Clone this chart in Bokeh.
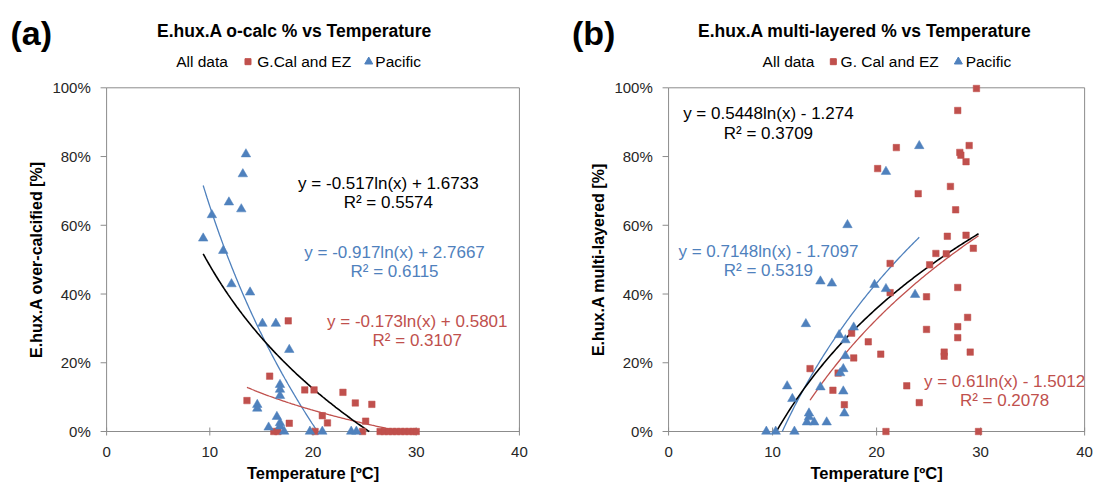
import math
import numpy as np
from bokeh.plotting import figure
from bokeh.layouts import row
from bokeh.models import Range1d, Label
from bokeh.core.properties import value
from bokeh.embed import file_html
from bokeh.resources import INLINE

# ---------------- data ----------------
temp_ticks = [0, 10, 20, 30, 40]
temp_tick_labels = ["0", "10", "20", "30", "40"]
pct_ticks = [0, 20, 40, 60, 80, 100]
pct_tick_labels = ["0%", "20%", "40%", "60%", "80%", "100%"]

# (a) E.hux.A over-calcified % vs temperature
a_gcal_temp = [13.6, 15.8, 16.2, 16.6, 17.6, 17.7, 19.2, 20.1, 20.2, 20.9, 21.4, 22.9, 24.1,
               24.8, 25.1, 25.7, 26.5, 26.9, 27.3, 27.7, 28.1, 28.5, 28.9, 29.3, 29.7, 30.0]
a_gcal_pct = [9.0, 16.1, 0, 0, 32.2, 2.4, 12.1, 12.1, 0, 4.6, 2.5, 11.4, 8.3,
              0, 3.0, 7.9, 0, 0, 0, 0, 0, 0, 0, 0, 0, 0]
a_pac_temp = [9.36, 10.2, 11.3, 11.85, 12.1, 13.05, 13.2, 13.5, 13.9, 14.6, 14.6, 15.1, 15.7,
              16.4, 16.5, 16.8, 16.8, 16.8, 16.8, 16.8, 17.2, 17.7, 19.7, 20.9, 23.7, 24.2]
a_pac_pct = [56.2, 63.0, 52.6, 66.7, 42.9, 64.7, 74.9, 80.7, 40.5, 7.8, 6.7, 31.4, 1.2,
             31.4, 4.3, 13.6, 12.2, 10.4, 2.5, 1.5, 0, 23.8, 0, 0, 0, 0]
a_fit_all = [-0.517, 1.6733]
a_fit_gcal = [-0.173, 0.5801]
a_fit_pac = [-0.917, 2.7667]
a_eq_all = ["y = -0.517ln(x) + 1.6733", "R² = 0.5574"]
a_eq_gcal = ["y = -0.173ln(x) + 0.5801", "R² = 0.3107"]
a_eq_pac = ["y = -0.917ln(x) + 2.7667", "R² = 0.6115"]

# (b) E.hux.A multi-layered % vs temperature
b_gcal_temp = [13.6, 15.8, 16.3, 16.9, 17.6, 17.8, 19.2, 20.1, 20.4, 20.9, 21.3, 21.3, 21.9,
               22.9, 24.0, 24.1, 24.8, 24.8, 25.1, 25.7, 26.5, 26.5, 26.7, 26.8, 27.1, 27.6,
               27.8, 27.8, 27.8, 27.8, 28.0, 28.1, 28.6, 28.6, 28.75, 28.9, 29.0, 29.3, 29.6, 29.8]
b_gcal_pct = [18.3, 12.0, 17.0, 7.8, 28.6, 21.4, 26.1, 76.5, 22.5, 0, 48.9, 40.4, 82.6,
              13.3, 69.2, 8.4, 39.2, 29.7, 48.5, 51.8, 23.1, 21.9, 51.7, 56.8, 71.3, 64.5,
              93.4, 41.9, 30.5, 27.3, 81.2, 80.4, 57.1, 78.5, 33.2, 83.2, 23.1, 53.3, 99.8, 0]
b_pac_temp = [9.4, 10.3, 11.4, 11.9, 12.1, 13.2, 13.3, 13.5, 13.5, 14.0, 14.6, 14.6, 15.2, 15.7,
              16.4, 16.5, 16.8, 16.8, 16.9, 17.0, 17.0, 17.2, 17.8, 19.8, 20.9, 20.9, 23.7, 24.1]
b_pac_pct = [0, 0, 13.2, 9.5, 0, 31.3, 2.7, 5.3, 4.2, 2.7, 43.7, 12.9, 2.7, 43.1,
             28.1, 17.0, 18.2, 11.7, 5.3, 26.6, 22.0, 60.1, 30.3, 42.7, 41.5, 75.6, 39.8, 83.1]
b_fit_all = [0.5448, -1.274]
b_fit_gcal = [0.61, -1.5012]
b_fit_pac = [0.7148, -1.7097]
b_eq_all = ["y = 0.5448ln(x) - 1.274", "R² = 0.3709"]
b_eq_gcal = ["y = 0.61ln(x) - 1.5012", "R² = 0.2078"]
b_eq_pac = ["y = 0.7148ln(x) - 1.7097", "R² = 0.5319"]

# ---------------- style ----------------
FONT = "Liberation Sans"
RED = "#C0504D"
BLUE = "#4F81BD"
AXIS = "#8C8C8C"
TXT = "#262626"


def log_curve(coef, xs):
    a, b = coef
    lo, hi = min(xs), max(xs)
    x0 = math.exp(-b / a)
    if a < 0:
        hi = min(hi, x0)
    else:
        lo = max(lo, x0)
    xx = np.linspace(lo, hi, 120)
    return xx, (a * np.log(xx) + b) * 100


def add_label(p, text, x, y, size, color=TXT, bold=False, align="left", angle=0.0, font=FONT):
    p.add_layout(Label(x=x, y=y, text=text, text_font=font, text_font_size=f"{size}px",
                       text_color=color, text_font_style="bold" if bold else "normal",
                       text_align=align, text_baseline="middle", angle=angle))


def panel(cfg):
    # the frame covers the whole figure; data space extends beyond the 0-40 / 0-100% box
    p = figure(width=547, height=484, x_range=Range1d(*cfg["xr"]), y_range=Range1d(-15.42, 125.4),
               output_backend="svg", toolbar_location=None,
               x_axis_location=None, y_axis_location=None,
               min_border=0, min_border_left=0, min_border_right=0,
               min_border_top=0, min_border_bottom=0)
    p.outline_line_color = None
    p.xgrid.visible = False
    p.ygrid.visible = False
    p.background_fill_color = "white"
    pxu = cfg["pxu"]  # pixels per temperature unit
    pyu = 3.437       # pixels per percent

    # plot-area box / axis lines
    p.segment(x0=[0, 0, 0, 40], y0=[0, 0, 100, 0], x1=[40, 0, 40, 40], y1=[0, 100, 100, 100],
              line_color=AXIS, line_width=1)
    # y ticks (outside) and x ticks (cross)
    p.segment(x0=[-6 / pxu] * len(pct_ticks), y0=pct_ticks, x1=[0] * len(pct_ticks), y1=pct_ticks,
              line_color=AXIS, line_width=1)
    p.segment(x0=temp_ticks, y0=[-4 / pyu] * len(temp_ticks), x1=temp_ticks,
              y1=[4 / pyu] * len(temp_ticks), line_color=AXIS, line_width=1)
    # tick labels
    p.text(x=[-15.8 / pxu] * len(pct_ticks), y=pct_ticks, text=pct_tick_labels,
           text_font=value(FONT), text_font_size="15px", text_color=TXT,
           text_align="right", text_baseline="middle")
    p.text(x=temp_ticks, y=[-20.7 / pyu] * len(temp_ticks), text=temp_tick_labels,
           text_font=value(FONT), text_font_size="15px", text_color=TXT,
           text_align="center", text_baseline="middle")

    gx, gy, px_, py_ = cfg["gx"], cfg["gy"], cfg["px"], cfg["py"]
    # trendlines
    cx, cy = log_curve(cfg["fit_pac"], px_)
    p.line(cx, cy, line_color=BLUE, line_width=1.3)
    cx, cy = log_curve(cfg["fit_gcal"], gx)
    p.line(cx, cy, line_color=RED, line_width=1.3)
    cx, cy = log_curve(cfg["fit_all"], list(gx) + list(px_))
    p.line(cx, cy, line_color="black", line_width=1.6)

    # points
    p.scatter(gx, gy, marker="square", size=6.5, fill_color=RED, line_color=RED, line_width=0.5)
    p.scatter(px_, py_, marker="triangle", size=9.5, fill_color=BLUE, line_color=BLUE, line_width=0.5)

    # headings
    tag, tx, ty = cfg["tag"]
    add_label(p, tag, tx, ty, 34, color="black", bold=True, align="center")
    t, tx, ty = cfg["title"]
    add_label(p, t, tx, ty, 17.5, color="black", bold=True, align="center")
    # legend
    lx = cfg["legx"]
    ly = cfg["legy"]
    add_label(p, "All data", lx[0], ly, 15.5, color="black")
    p.scatter([lx[1]], [ly], marker="square", size=6, fill_color=RED, line_color=RED)
    add_label(p, cfg["gname"], lx[2], ly, 15.5, color="black")
    p.scatter([lx[3]], [ly], marker="triangle", size=8, fill_color=BLUE, line_color=BLUE)
    add_label(p, "Pacific", lx[4], ly, 15.5, color="black")

    # axis titles
    add_label(p, cfg["ylabel"], cfg["ylx"], 50, 16, color="black", bold=True, align="center",
              angle=math.pi / 2)
    add_label(p, "Temperature [ºC]", 20, -12.2, 16.5, color="black", bold=True, align="center")

    # trendline equations
    for eq, (ex, ey1, ey2), col in cfg["eqs"]:
        add_label(p, eq[0], ex, ey1, 17, color=col, align="center")
        add_label(p, eq[1], ex, ey2, 17, color=col, align="center")
    return p


cfg_a = dict(xr=(-10.28, 42.72), pxu=10.32,
             gx=a_gcal_temp, gy=a_gcal_pct, px=a_pac_temp, py=a_pac_pct,
             fit_all=a_fit_all, fit_gcal=a_fit_gcal, fit_pac=a_fit_pac,
             tag=("(a)", -7.3, 116.0), title=("E.hux.A o-calc % vs Temperature", 18.2, 116.6),
             legx=[6.74, 13.7, 14.6, 25.4, 26.04], legy=107.6, gname="G.Cal and EZ",
             ylabel="E.hux.A over-calcified [%]", ylx=-6.84,
             eqs=[(a_eq_all, (27.3, 72.1, 66.6), "black"),
                  (a_eq_pac, (27.9, 52.0, 46.5), BLUE),
                  (a_eq_gcal, (30.1, 32.1, 26.5), RED)])

cfg_b = dict(xr=(-11.64, 40.95), pxu=10.4,
             gx=b_gcal_temp, gy=b_gcal_pct, px=b_pac_temp, py=b_pac_pct,
             fit_all=b_fit_all, fit_gcal=b_fit_gcal, fit_pac=b_fit_pac,
             tag=("(b)", -7.2, 116.0), title=("E.hux.A multi-layered % vs Temperature", 18.85, 116.6),
             legx=[9.04, 15.84, 16.54, 27.86, 28.56], legy=107.6, gname="G. Cal and EZ",
             ylabel="E.hux.A multi-layered [%]", ylx=-6.73,
             eqs=[(b_eq_all, (9.6, 92.4, 86.7), "black"),
                  (b_eq_pac, (9.6, 52.4, 46.8), BLUE),
                  (b_eq_gcal, (32.3, 14.5, 9.0), RED)])

p1 = panel(cfg_a)
p2 = panel(cfg_b)
layout = row(p1, p2)

open("out.html", "w").write(file_html(layout, INLINE))
